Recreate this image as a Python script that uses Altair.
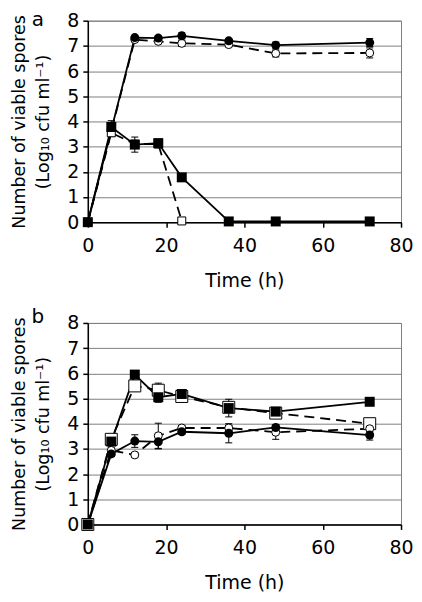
import altair as alt
import pandas as pd

FONT = "DejaVu Sans"

# ---------------- Panel a ----------------
A_FC_T = [0, 12, 18, 24, 36, 48, 72]
A_FC_V = [0.0, 7.33, 7.31, 7.40, 7.20, 7.03, 7.13]
A_FC_E = [0, 0.06, 0.08, 0.12, 0.08, 0.12, 0.16]

A_OC_T = [0, 12, 18, 24, 36, 48, 72]
A_OC_V = [0.0, 7.25, 7.18, 7.10, 7.05, 6.70, 6.72]
A_OC_E = [0, 0.05, 0.06, 0.12, 0.08, 0.14, 0.20]

A_FS_T = [0, 6, 12, 18, 24, 36, 48, 72]
A_FS_V = [0.0, 3.78, 3.08, 3.14, 1.78, 0.03, 0.03, 0.03]
A_FS_E = [0, 0.25, 0.30, 0.15, 0, 0, 0, 0]

A_OS_T = [0, 6, 12, 18, 24]
A_OS_V = [0.0, 3.55, 3.10, 3.10, 0.05]
A_OS_E = [0, 0.15, 0.10, 0.10, 0]

# ---------------- Panel b ----------------
B_T = [0, 6, 12, 18, 24, 36, 48, 72]
B_FS_V = [0.0, 3.29, 5.95, 5.05, 5.18, 4.62, 4.48, 4.87]
B_FS_E = [0, 0.10, 0.08, 0.20, 0.12, 0.35, 0.12, 0.05]
B_OS_V = [0.0, 3.38, 5.50, 5.33, 5.08, 4.65, 4.42, 4.00]
B_OS_E = [0, 0.10, 0.20, 0.28, 0.15, 0.20, 0.15, 0.18]
B_FC_V = [0.0, 2.80, 3.31, 3.28, 3.68, 3.62, 3.85, 3.55]
B_FC_E = [0, 0.10, 0.25, 0.28, 0.10, 0.38, 0.10, 0.20]
B_OC_V = [0.0, 2.94, 2.76, 3.52, 3.83, 3.83, 3.66, 3.80]
B_OC_E = [0, 0.10, 0.08, 0.50, 0.10, 0.10, 0.28, 0.12]

X_TICKS = [0, 20, 40, 60, 80]
Y_TICKS = [0, 1, 2, 3, 4, 5, 6, 7, 8]
Y_TITLE = ["Number of viable spores", "(Log\u2081\u2080 cfu ml\u207b\u00b9)"]
X_TITLE = "Time (h)"

W, H = 314, 202
X_SCALE = alt.Scale(domain=[0, 80], nice=False)
Y_SCALE = alt.Scale(domain=[0, 8], nice=False)
X_AXIS = alt.Axis(values=X_TICKS, title=X_TITLE, grid=False, labelFlush=False,
                  labelPadding=9, titlePadding=16, tickSize=5)
Y_AXIS = alt.Axis(values=Y_TICKS, title=Y_TITLE, grid=True, tickSize=5,
                  labelPadding=4, titlePadding=14)


def X(field):
    return alt.X(field, scale=X_SCALE, axis=X_AXIS)


def Y(field):
    return alt.Y(field, scale=Y_SCALE, axis=Y_AXIS)


def series_layers(t, v, e, shape, is_open, size):
    df = pd.DataFrame({"t": t, "v": v, "e": e})
    base = alt.Chart(df)
    line_kw = dict(color="black", strokeWidth=1.8)
    if is_open:
        line_kw["strokeDash"] = [10, 6]
    line = base.mark_line(**line_kw).encode(x=X("t:Q"), y=Y("v:Q"))
    errs = base.transform_filter("datum.e > 0").transform_calculate(
        lo="datum.v - datum.e", hi="datum.v + datum.e",
        tl="datum.t - 0.9", tr="datum.t + 0.9")
    bar = errs.mark_rule(color="black", strokeWidth=1).encode(
        x=X("t:Q"), y=Y("lo:Q"), y2="hi:Q")
    cap_lo = errs.mark_rule(color="black", strokeWidth=1).encode(
        x=X("tl:Q"), x2="tr:Q", y=Y("lo:Q"))
    cap_hi = errs.mark_rule(color="black", strokeWidth=1).encode(
        x=X("tl:Q"), x2="tr:Q", y=Y("hi:Q"))
    if is_open:
        pt = base.mark_point(shape=shape, filled=True, fill="white", stroke="black",
                             strokeWidth=1, opacity=1, size=size)
    else:
        pt = base.mark_point(shape=shape, filled=True, color="black", opacity=1, size=size)
    pt = pt.encode(x=X("t:Q"), y=Y("v:Q"))
    return [line, bar, cap_lo, cap_hi], [pt]


def panel(series_list, letter, letter_y):
    lines, pts = [], []
    for s in series_list:
        l, p = series_layers(*s)
        lines += l
        pts += p
    lab = alt.Chart(pd.DataFrame({"s": [letter]})).mark_text(
        fontSize=20, font=FONT, baseline="alphabetic", align="center", color="black"
    ).encode(x=alt.value(-50), y=alt.value(letter_y), text="s:N")
    return alt.layer(*lines, *pts, lab).properties(width=W, height=H)


panel_a = panel([
    (A_OC_T, A_OC_V, A_OC_E, "circle", True, 64),
    (A_OS_T, A_OS_V, A_OS_E, "square", True, 64),
    (A_FS_T, A_FS_V, A_FS_E, "square", False, 100),
    (A_FC_T, A_FC_V, A_FC_E, "circle", False, 81),
], "a", 5)

panel_b = panel([
    (B_T, B_OS_V, B_OS_E, "square", True, 144),
    (B_T, B_OC_V, B_OC_E, "circle", True, 64),
    (B_T, B_FC_V, B_FC_E, "circle", False, 81),
    (B_T, B_FS_V, B_FS_E, "square", False, 100),
], "b", 0)

chart = alt.vconcat(panel_a, panel_b, spacing=15).properties(
    padding={"left": 2, "top": 0, "right": 0, "bottom": 0}
).configure(font=FONT).configure_view(
    stroke="#808080", strokeWidth=1
).configure_axis(
    domainColor="black", domainWidth=1.5, tickColor="black", tickWidth=1.5,
    gridColor="#808080", gridWidth=1, labelColor="black", titleColor="black",
    labelFont=FONT, titleFont=FONT, labelFontSize=19, titleFontSize=19,
    titleFontWeight="normal"
).configure_axisY(
    titleFontSize=17.5, titleLineHeight=24
)

chart.save("out.html", embed_options={"renderer": "svg", "actions": False})
